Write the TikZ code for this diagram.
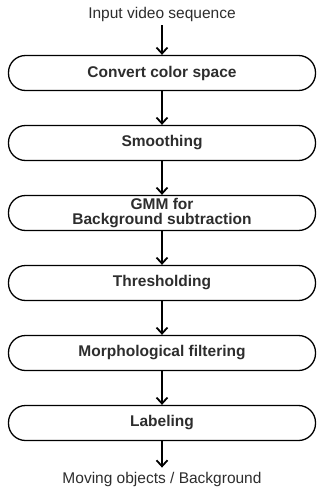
\documentclass[tikz,border=0pt]{standalone}
\usepackage{fontspec}
\setmainfont{Liberation Sans}
\usetikzlibrary{arrows.meta}
\pgfdeclarelayer{edgelayer}
\pgfdeclarelayer{nodelayer}
\pgfsetlayers{edgelayer,nodelayer,main}
\definecolor{textgray}{RGB}{45,45,45}
\tikzstyle{process}=[rectangle,rounded corners=17pt,fill=white,draw=black,line width=1.3pt,minimum width=307pt,minimum height=35pt,inner sep=0pt,align=center,font=\fontsize{15.5}{15}\selectfont\bfseries,text=textgray]
\tikzstyle{io}=[inner sep=0pt,font=\fontsize{15.5}{16}\selectfont,text=textgray]
\tikzstyle{flow}=[-{Straight Barb[length=6pt,width=11pt,line width=1.8pt]},line width=1.8pt,draw=black]

\begin{document}
\begin{tikzpicture}[x=1pt,y=-1pt]
	\useasboundingbox (0, 0) rectangle (321, 497);
	\begin{pgfonlayer}{nodelayer}
		\node [style=io] (0) at (162, 14) {Input video sequence};
		\node [style=process] (1) at (162, 73) {Convert color space};
		\node [style=process] (2) at (162, 143) {Smoothing};
		\node [style=process] (3) at (162, 213) {GMM for\\Background subtraction};
		\node [style=process] (4) at (162, 283) {Thresholding};
		\node [style=process] (5) at (162, 353) {Morphological filtering};
		\node [style=process] (6) at (162, 423) {Labeling};
		\node [style=io] (7) at (162, 479) {Moving objects / Background};
	\end{pgfonlayer}
	\begin{pgfonlayer}{edgelayer}
		\draw [style=flow, shorten <=4pt] (0) to (1);
		\draw [style=flow] (1) to (2);
		\draw [style=flow] (2) to (3);
		\draw [style=flow] (3) to (4);
		\draw [style=flow] (4) to (5);
		\draw [style=flow] (5) to (6);
		\draw [style=flow, shorten >=4pt] (6) to (7);
	\end{pgfonlayer}
\end{tikzpicture}
\end{document}
